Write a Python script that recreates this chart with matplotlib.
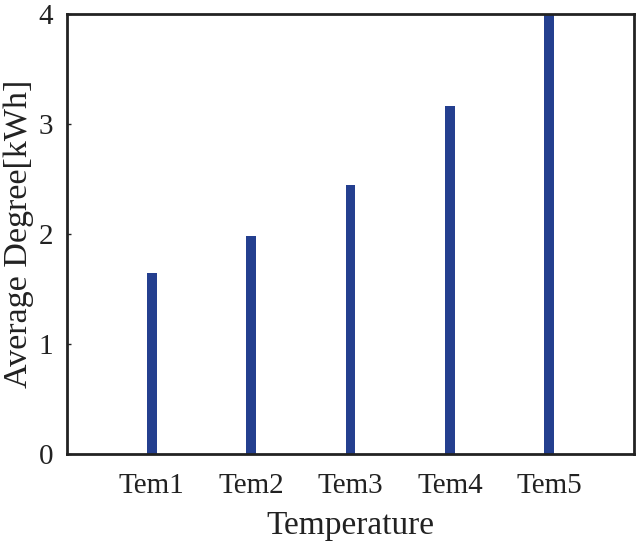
import matplotlib
matplotlib.use("Agg")
import matplotlib.pyplot as plt

categories = ["Tem1", "Tem2", "Tem3", "Tem4", "Tem5"]
values = [1.65, 1.98, 2.45, 3.16, 4.0]
y_ticks = [0, 1, 2, 3, 4]

plt.rcParams['font.family'] = ['Liberation Serif', 'DejaVu Serif']

fig = plt.figure(figsize=(6.42, 5.43), dpi=100)
ax = fig.add_axes([67/642, 1 - 454/543, (634-67)/642, (454-14)/543])

x = list(range(1, len(categories) + 1))
ax.bar(x, values, width=0.1, color="#243f8f", zorder=2)

ax.set_xlim(0.15, 5.85)
ax.set_ylim(0, 4)
ax.set_xticks(x)
ax.set_xticklabels(categories)
ax.set_yticks(y_ticks)
ax.tick_params(axis='x', length=0, labelsize=21, pad=14, colors='#222222')
ax.tick_params(axis='y', direction='in', length=3, width=1, labelsize=21, pad=10, colors='#222222')
for s in ax.spines.values():
    s.set_linewidth(2)
    s.set_color('#222222')
ax.set_xlabel("Temperature", fontsize=24, color='#222222', labelpad=8)
ax.set_ylabel("Average Degree[kWh]", fontsize=24.5, color='#222222', labelpad=3)

fig.savefig("out.png", dpi=100)
